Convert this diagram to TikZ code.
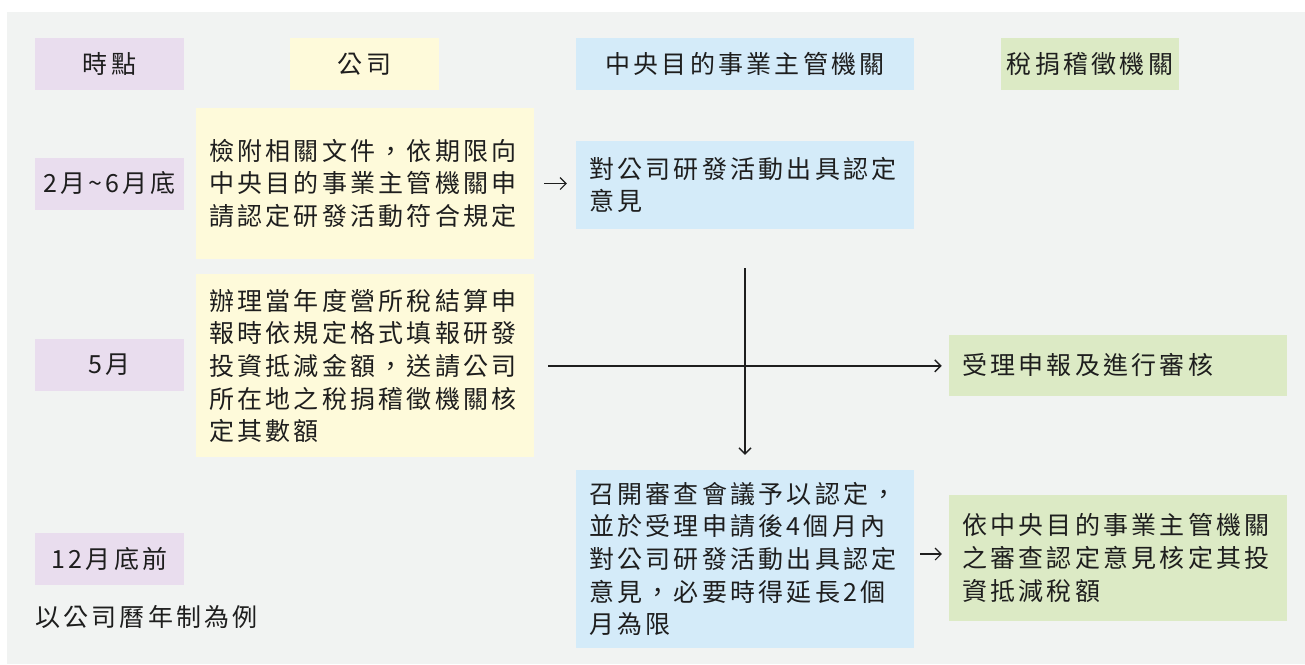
\documentclass[tikz,border=0pt]{standalone}
\usepackage{fontspec}
\setmainfont{Noto Sans CJK TC}[LetterSpace=13]
\usepackage{xcolor}
\usetikzlibrary{
    positioning,
    arrows.meta
}
\definecolor{bggray}{RGB}{241,243,242}
\definecolor{timepurple}{RGB}{233,221,238}
\definecolor{compyellow}{RGB}{254,250,218}
\definecolor{centblue}{RGB}{212,235,249}
\definecolor{taxgreen}{RGB}{220,234,197}
\definecolor{inkdark}{RGB}{30,30,30}
\tikzset{
    cell/.style={
        rectangle, inner sep=0pt, text=inkdark,
        font=\fontsize{25pt}{32.7pt}\selectfont
    },
    timecell/.style={
        cell, fill=timepurple,
        minimum width=149pt, minimum height=52pt
    },
    headcell/.style={
        cell, minimum height=52pt
    },
    bodycell/.style={
        cell, inner xsep=13pt, text width=312pt, align=left
    },
    arrow/.style={
        -{Straight Barb[length=6pt, width=12pt]}, line width=1.4pt, draw=inkdark
    }
}

\begin{document}
\begin{tikzpicture}[x=1pt, y=-1pt]

    % Frame
    \useasboundingbox (0,0) rectangle (1305,664);
    \fill[bggray] (7,12) rectangle (1305,664);

    % Header row
    \node[timecell] (h_time) at (109.5,64) {時點};
    \node[headcell, fill=compyellow, minimum width=149pt] (h_comp) at (364.5,64) {公司};
    \node[headcell, fill=centblue, minimum width=338pt] (h_cent) at (745,64) {中央目的事業主管機關};
    \node[headcell, fill=taxgreen, minimum width=178pt] (h_tax) at (1090,64) {稅捐稽徵機關};

    % Time column
    \node[timecell] (t1) at (109.5,183.5) {2月\textasciitilde 6月底};
    \node[timecell] (t2) at (109.5,364.5) {5月};
    \node[timecell] (t3) at (109.5,559) {12月底前};

    % Company
    \node[bodycell, fill=compyellow, minimum height=151pt] (c1) at (365,183.5)
        {檢附相關文件，依期限向\\中央目的事業主管機關申\\請認定研發活動符合規定};
    \node[bodycell, fill=compyellow, minimum height=183pt, below=15pt of c1] (c2)
        {辦理當年度營所稅結算申\\報時依規定格式填報研發\\投資抵減金額，送請公司\\所在地之稅捐稽徵機關核\\定其數額};

    % Central authority
    \node[bodycell, fill=centblue, minimum height=88pt] (g1) at (745,185)
        {對公司研發活動出具認定\\意見};
    \node[bodycell, fill=centblue, minimum height=178pt] (g3) at (745,559)
        {召開審查會議予以認定，\\並於受理申請後4個月內\\對公司研發活動出具認定\\意見，必要時得延長2個\\月為限};

    % Tax authority
    \node[bodycell, fill=taxgreen, minimum height=61pt] (x2) at (1118,365.5)
        {受理申報及進行審核};
    \node[bodycell, fill=taxgreen, minimum height=126pt] (x3) at (1118,558)
        {依中央目的事業主管機關\\之審查認定意見核定其投\\資抵減稅額};

    % Note
    \node[cell, anchor=west] (note) at (35,617) {以公司曆年制為例};

    % Arrows
    \draw[arrow, line width=1.1pt, shorten <=10pt, shorten >=9pt] (c1.east) -- (c1.east -| g1.west);
    \draw[arrow, shorten <=14pt, shorten >=7pt] (c2.east) -- (c2.east -| x2.west);
    \draw[arrow, shorten <=39pt, shorten >=15pt] (g1.south) -- (g3.north);
    \draw[arrow, line width=1.1pt, shorten <=6pt, shorten >=7pt] ([yshift=5pt]g3.east) -- ([yshift=5pt]g3.east -| x3.west);

\end{tikzpicture}
\end{document}
